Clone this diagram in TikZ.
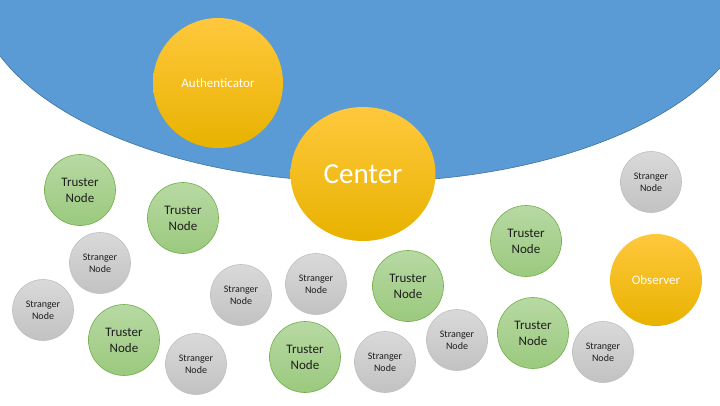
\documentclass[tikz,border=0pt]{standalone}
\usepackage{fontspec}
\setmainfont{Carlito}
\usepackage{tikz}
\usetikzlibrary{shapes.geometric}
\definecolor{skyblue}{HTML}{5B9BD5}
\definecolor{skyedge}{HTML}{41719C}
\definecolor{goldtop}{HTML}{FFC83D}
\definecolor{goldmid}{HTML}{FFC500}
\definecolor{goldbot}{HTML}{E8B200}
\definecolor{greentop}{HTML}{B7D9A3}
\definecolor{greenbot}{HTML}{9BC97E}
\definecolor{greenedge}{HTML}{70AD47}
\definecolor{graytop}{HTML}{D9D9D9}
\definecolor{graybot}{HTML}{C2C2C2}
\definecolor{grayedge}{HTML}{BFBFBF}
\definecolor{inkdark}{HTML}{1E1E1E}
\tikzset{
    member/.style={circle,inner sep=0pt,align=center},
    gold/.style={member,top color=goldtop,middle color=goldmid,bottom color=goldbot,text=white,font=\fontsize{13}{16}\selectfont},
    truster/.style={member,minimum size=71pt,top color=greentop,bottom color=greenbot,draw=greenedge,line width=0.6pt,text=inkdark,font=\fontsize{13}{16}\selectfont},
    stranger/.style={member,minimum size=61pt,top color=graytop,bottom color=graybot,draw=grayedge,line width=0.6pt,text=inkdark,font=\fontsize{10}{12}\selectfont}
}

\begin{document}
\begin{tikzpicture}[x=1pt,y=-1pt]
    \useasboundingbox (0,0) rectangle (720,405);
    \clip (0,0) rectangle (720,405);
    % trusted zone
    \filldraw[fill=skyblue,draw=skyedge,line width=0.6pt] (365,-13) ellipse [x radius=390pt,y radius=195pt];
    % gold members
    \node[gold,minimum size=130pt] (auth) at (218,83) {Authenticator};
    \node[gold,ellipse,minimum width=145pt,minimum height=134pt,font=\fontsize{29}{34}\selectfont] (center) at (363,174) {Center};
    \node[gold,minimum size=92pt] (observer) at (656,280) {Observer};
    % truster nodes
    \foreach \x/\y/\n in {80/190/1,183/218/2,124/340/3,305/357/4,408/286/5,526/241/6,533/333/7}
        \node[truster] (truster\n) at (\x,\y) {Truster\\Node};
    % stranger nodes
    \foreach \x/\y/\n in {651/182/1,100/263/2,43/310/3,241/295/4,196/364/5,316/284/6,385/362/7,457/340/8,603/352/9}
        \node[stranger] (stranger\n) at (\x,\y) {Stranger\\Node};
\end{tikzpicture}
\end{document}
